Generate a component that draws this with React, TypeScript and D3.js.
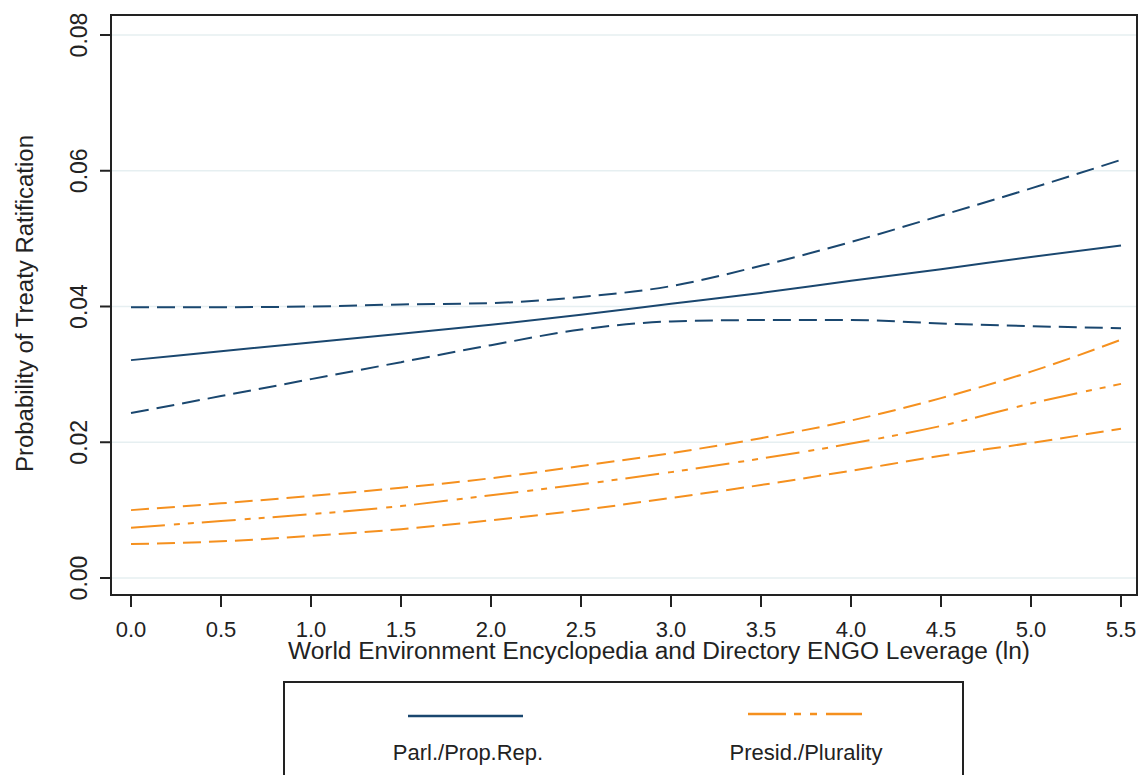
import React from "react";
import * as d3 from "d3";

const xValues = [0, 0.5, 1, 1.5, 2, 2.5, 3, 3.5, 4, 4.5, 5, 5.5];
const parlMid = [0.0321, 0.0334, 0.0347, 0.036, 0.0373, 0.0388, 0.0404, 0.042, 0.0438, 0.0455, 0.0473, 0.049];
const parlUpper = [0.0399, 0.0399, 0.04, 0.0403, 0.0405, 0.0414, 0.043, 0.046, 0.0495, 0.0534, 0.0574, 0.0616];
const parlLower = [0.0243, 0.0268, 0.0293, 0.0318, 0.0343, 0.0366, 0.0378, 0.038, 0.038, 0.0375, 0.0371, 0.0368];
const presUpper = [0.01, 0.011, 0.0121, 0.0133, 0.0147, 0.0165, 0.0184, 0.0206, 0.0232, 0.0265, 0.0304, 0.0351];
const presMid = [0.0074, 0.0084, 0.0094, 0.0106, 0.0122, 0.0138, 0.0156, 0.0176, 0.0198, 0.0224, 0.0257, 0.0286];
const presLower = [0.005, 0.0054, 0.0062, 0.0072, 0.0085, 0.01, 0.0118, 0.0137, 0.0158, 0.018, 0.0199, 0.022];

const xTicks = [0, 0.5, 1, 1.5, 2, 2.5, 3, 3.5, 4, 4.5, 5, 5.5];
const yTicks = [0, 0.02, 0.04, 0.06, 0.08];
const legendLabels = ["Parl./Prop.Rep.", "Presid./Plurality"];
const xTitle = "World Environment Encyclopedia and Directory ENGO Leverage (ln)";
const yTitle = "Probability of Treaty Ratification";

const BLUE = "#1a476f";
const ORANGE = "#f5901e";
const FONT = "'Liberation Sans', Arial, sans-serif";

export default function App() {
  const W = 1139, H = 775;
  const frame = { left: 111, right: 1137, top: 15, bottom: 595 };
  const x = d3.scaleLinear().domain([0, 5.5]).range([131, 1121]);
  const y = d3.scaleLinear().domain([0, 0.08]).range([578, 35]);
  const line = (vals: number[]) =>
    d3.line<number>().x((_, i) => x(xValues[i])).y((v) => y(v)).curve(d3.curveMonotoneX)(vals) || "";

  const series = [
    { vals: parlUpper, color: BLUE, dash: "18,8" },
    { vals: parlLower, color: BLUE, dash: "18,8" },
    { vals: parlMid, color: BLUE, dash: undefined },
    { vals: presUpper, color: ORANGE, dash: "18,8" },
    { vals: presLower, color: ORANGE, dash: "18,8" },
    { vals: presMid, color: ORANGE, dash: "34,9,6,8,6,8" },
  ];

  return (
    <svg width={W} height={H} style={{ position: "absolute", left: 0, top: 0, background: "#fff" }} fontFamily={FONT}>
      <rect x={0} y={0} width={W} height={H} fill="#fff" />
      {yTicks.map((t) => (
        <line key={"g" + t} x1={frame.left} x2={frame.right} y1={y(t)} y2={y(t)} stroke="#e6eff1" strokeWidth={1.5} />
      ))}
      {series.map((s, i) => (
        <path key={i} d={line(s.vals)} fill="none" stroke={s.color} strokeWidth={2} strokeDasharray={s.dash} />
      ))}
      <rect x={frame.left} y={frame.top} width={frame.right - frame.left} height={frame.bottom - frame.top} fill="none" stroke="#222" strokeWidth={2} />
      {yTicks.map((t) => (
        <g key={"y" + t}>
          <line x1={100} x2={frame.left} y1={y(t)} y2={y(t)} stroke="#222" strokeWidth={2} />
          <text transform={`translate(87,${y(t)}) rotate(-90)`} textAnchor="middle" fontSize={23} fill="#222">
            {d3.format(".2f")(t)}
          </text>
        </g>
      ))}
      {xTicks.map((t) => (
        <g key={"x" + t}>
          <line x1={x(t)} x2={x(t)} y1={frame.bottom} y2={607} stroke="#222" strokeWidth={2} />
          <text x={x(t)} y={637} textAnchor="middle" fontSize={22} fill="#222">
            {d3.format(".1f")(t)}
          </text>
        </g>
      ))}
      <text x={659} y={659} textAnchor="middle" fontSize={23} fill="#222" textLength={742} lengthAdjust="spacingAndGlyphs">{xTitle}</text>
      <text transform={`translate(33,303.5) rotate(-90)`} textAnchor="middle" fontSize={23} fill="#222" textLength={337} lengthAdjust="spacingAndGlyphs">{yTitle}</text>
      <rect x={284} y={682} width={679} height={120} fill="#fff" stroke="#222" strokeWidth={2} />
      <line x1={408} x2={523} y1={716} y2={716} stroke={BLUE} strokeWidth={2.5} />
      <line x1={748} x2={862} y1={714} y2={714} stroke={ORANGE} strokeWidth={2.5} strokeDasharray="38,8,7,9,7,9" />
      <text x={468} y={760} textAnchor="middle" fontSize={22} fill="#222">{legendLabels[0]}</text>
      <text x={806} y={760} textAnchor="middle" fontSize={22} fill="#222">{legendLabels[1]}</text>
    </svg>
  );
}
